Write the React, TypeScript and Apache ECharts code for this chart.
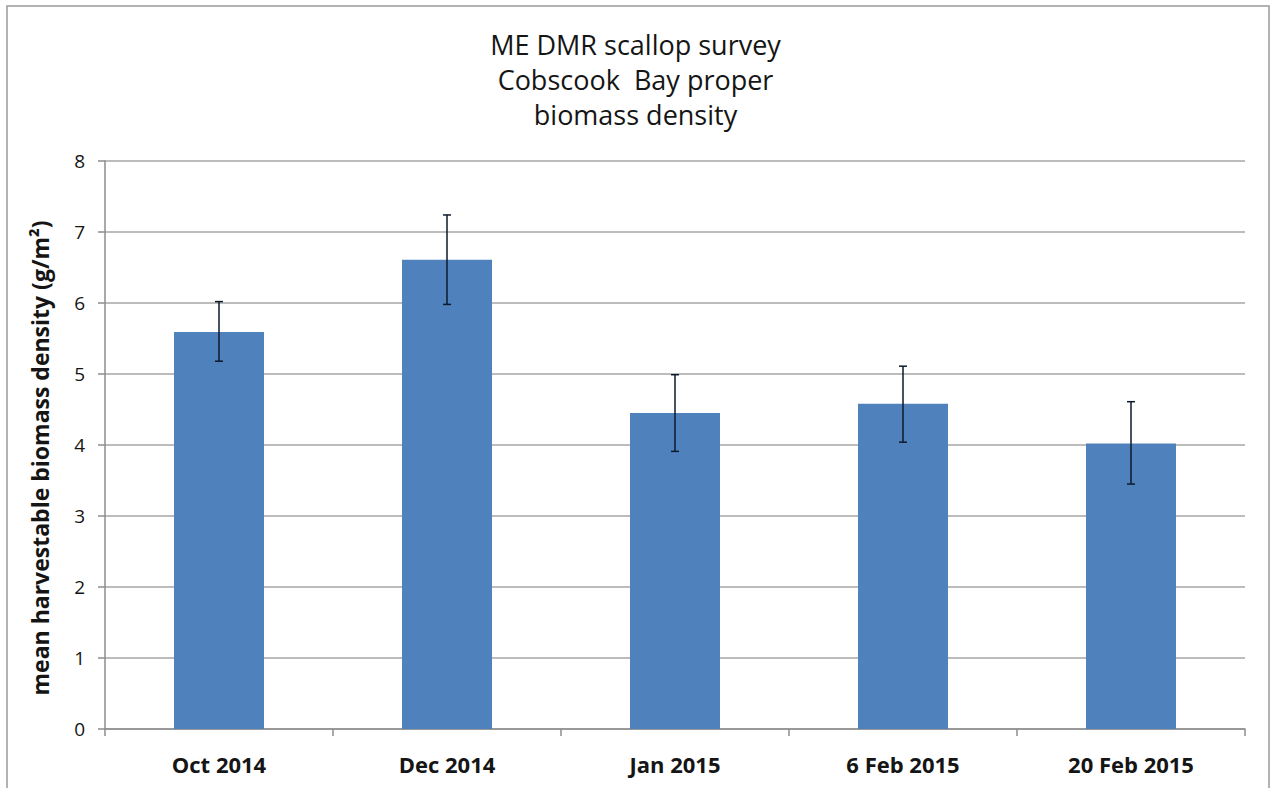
import React, { useEffect, useRef } from "react";
import * as echarts from "echarts";

const categories = ["Oct 2014", "Dec 2014", "Jan 2015", "6 Feb 2015", "20 Feb 2015"];
const means = [5.59, 6.61, 4.45, 4.58, 4.02];
const errLow = [5.18, 5.98, 3.91, 4.04, 3.45];
const errHigh = [6.02, 7.24, 4.99, 5.11, 4.61];
const titleLines = ["ME DMR scallop survey", "Cobscook  Bay proper", "biomass density"];
const yAxisTitle = "mean harvestable biomass density (g/m\u00B2)";

const FONT = "'Open Sans', 'Liberation Sans', sans-serif";

export default function App() {
  const ref = useRef<HTMLDivElement>(null);
  useEffect(() => {
    document.body.style.margin = "0";
    const chart = echarts.init(ref.current!, undefined, { renderer: "svg" });
    const errData = categories.map((_, i) => [i, errLow[i], errHigh[i]]);
    chart.setOption({
      animation: false,
      backgroundColor: "#ffffff",
      textStyle: { fontFamily: FONT },
      title: {
        text: titleLines.join("\n"),
        left: "center",
        top: 22,
        textStyle: {
          fontFamily: FONT,
          fontSize: 27,
          lineHeight: 35,
          fontWeight: "normal",
          color: "#151515",
        },
      },
      graphic: [
        {
          type: "rect",
          shape: { x: 7, y: 6, width: 1262, height: 790 },
          style: { fill: "none", stroke: "#9a9a9a", lineWidth: 1.5 },
          silent: true,
        },
      ],
      grid: { left: 105, right: 26, top: 161, bottom: 59 },
      xAxis: {
        type: "category",
        data: categories,
        axisLine: { lineStyle: { color: "#8c8c8c", width: 1.5 } },
        axisTick: { show: true, length: 7, lineStyle: { color: "#8c8c8c", width: 1.5 } },
        axisLabel: {
          fontFamily: FONT,
          fontSize: 22,
          fontWeight: "bold",
          color: "#151515",
          margin: 24,
        },
      },
      yAxis: {
        type: "value",
        min: 0,
        max: 8,
        interval: 1,
        name: yAxisTitle,
        nameLocation: "middle",
        nameGap: 54,
        nameTextStyle: {
          fontFamily: FONT,
          fontSize: 23,
          fontWeight: "bold",
          color: "#151515",
          padding: [0, 26, 0, 0],
        },
        axisLine: { show: true, lineStyle: { color: "#8c8c8c", width: 1.5 } },
        axisTick: { show: true, length: 7, lineStyle: { color: "#8c8c8c", width: 1.5 } },
        splitLine: { lineStyle: { color: "#a6a6a6", width: 1.5 } },
        axisLabel: {
          fontFamily: FONT,
          fontSize: 19,
          color: "#151515",
          margin: 20,
        },
      },
      series: [
        {
          type: "bar",
          data: means,
          barWidth: 90,
          itemStyle: { color: "#4F81BD" },
          z: 2,
        },
        {
          type: "custom",
          data: errData,
          z: 5,
          renderItem: (params: any, api: any) => {
            const x = api.value(0);
            const lo = api.coord([x, api.value(1)]);
            const hi = api.coord([x, api.value(2)]);
            const cap = 4;
            const style = { stroke: "#0d1a2b", lineWidth: 1.5 };
            return {
              type: "group",
              children: [
                { type: "line", shape: { x1: lo[0], y1: lo[1], x2: hi[0], y2: hi[1] }, style },
                { type: "line", shape: { x1: hi[0] - cap, y1: hi[1], x2: hi[0] + cap, y2: hi[1] }, style },
                { type: "line", shape: { x1: lo[0] - cap, y1: lo[1], x2: lo[0] + cap, y2: lo[1] }, style },
              ],
            };
          },
        },
      ],
    });
    return () => chart.dispose();
  }, []);
  return <div ref={ref} style={{ width: 1271, height: 788 }} />;
}
